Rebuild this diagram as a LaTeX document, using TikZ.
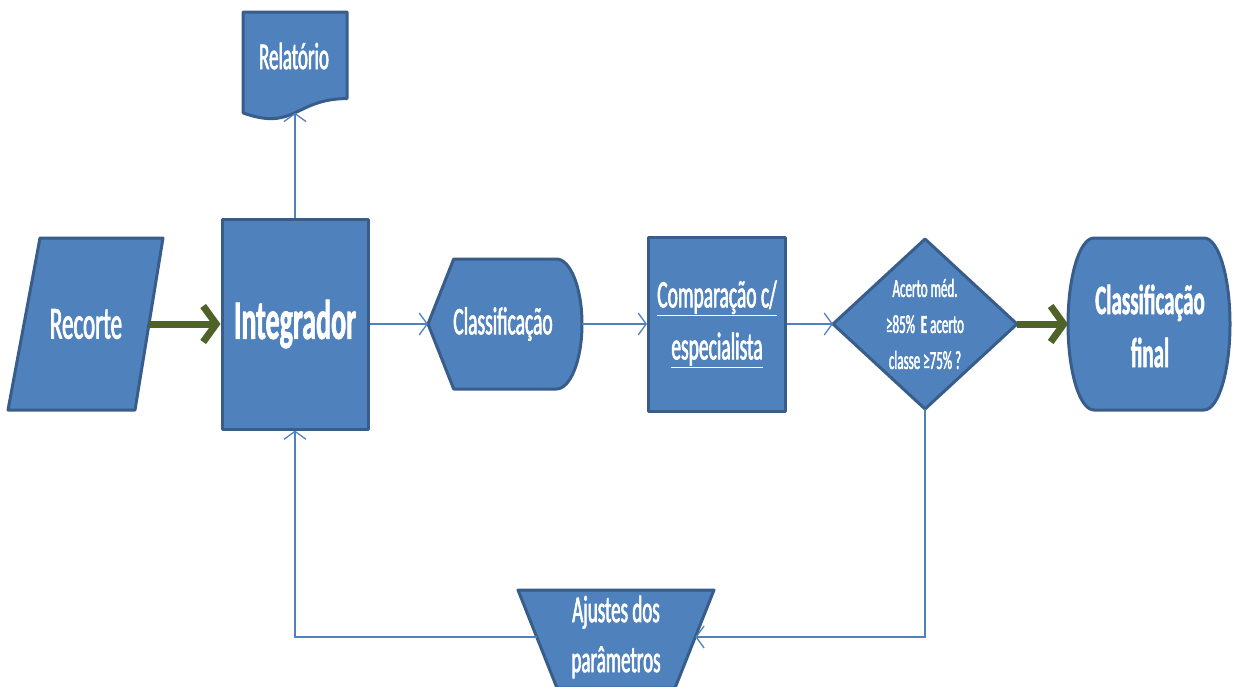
\documentclass[tikz,border=0pt]{standalone}
\usepackage{fontspec}
\setmainfont{Carlito}
\newfontfamily\narrow[FakeStretch=0.5,
  UprightFeatures={FakeBold=1.6},BoldFeatures={FakeBold=1.2}]{Carlito}
\usetikzlibrary{arrows.meta}
\definecolor{boxfill}{HTML}{4F81BD}
\definecolor{boxline}{HTML}{385D8A}
\definecolor{flowline}{HTML}{4F81BD}
\definecolor{okgreen}{HTML}{4F6228}
\newcommand{\fs}[2]{\fontsize{#1}{#2}\selectfont}

\begin{document}
\begin{tikzpicture}[x=1pt,y=-1pt,
  shp/.style={fill=boxfill,draw=boxline,line width=3pt,line join=round},
  lbl/.style={text=white,font=\narrow,align=center,inner sep=0pt},
  flow/.style={draw=flowline,line width=1.5pt,-{Straight Barb[length=8pt,width=22pt,line width=1.3pt]}},
  pass/.style={draw=okgreen,line width=7pt,-{Straight Barb[length=13pt,width=36pt]}}]

\useasboundingbox (0,0) rectangle (1236,686);
\clip (0,0) rectangle (1236,686);

% Recorte: input parallelogram
\path[shp] (40,238) -- (163,238) -- (135,410) -- (8,410) -- cycle;
\coordinate (recorte-e) at (149,324);
\node[lbl,font=\narrow\fs{46}{52}] (recorte) at (86,324) {Recorte};

% Integrador
\node[shp,lbl,minimum width=146pt,minimum height=210pt,font=\narrow\bfseries\fs{56}{60}]
  (integ) at (295,324) {Integrador};

% Relatório: document with wavy bottom
\path[shp] (243,12) -- (347,12) -- (347,98.6)
  .. controls (295,98.6) and (295,131.6) .. (243,112.9) coordinate[pos=0.5] (relat-b)
  -- cycle;
\node[lbl,font=\narrow\fs{38}{44}] (relat) at (294,56) {Relatório};

% Classificação: display shape
\path[shp] (428,324) -- (453.7,259) -- (556.3,259)
  .. controls (570.5,259) and (582,288.1) .. (582,324)
  .. controls (582,359.9) and (570.5,389) .. (556.3,389)
  -- (453.7,389) -- cycle;
\coordinate (classif-w) at (428,324);
\coordinate (classif-e) at (582,324);
\node[lbl,font=\narrow\fs{39}{46}] (classif) at (503,324) {Classificação};

% Comparação com especialista
\node[shp,lbl,minimum width=137pt,minimum height=174pt,font=\narrow\fs{39}{52}]
  (compar) at (717,324) {\underline{Comparação c/}\\\underline{especialista}};

% Decision
\path[shp] (925,239) -- (1017,324) -- (925,409) -- (833,324) -- cycle;
\coordinate (dec-w) at (833,324);
\coordinate (dec-e) at (1017,324);
\coordinate (dec-s) at (925,409);
\node[lbl,font=\narrow\fs{26}{36}] (dec) at (925,324)
  {Acerto méd.\\≥85\%~~\textbf{E} acerto\\classe ≥75\% ?};

% Classificação final: terminator
\path[shp] (1094,238) -- (1204,238)
  .. controls (1218.4,238) and (1230,276.5) .. (1230,324)
  .. controls (1230,371.5) and (1218.4,410) .. (1204,410)
  -- (1094,410)
  .. controls (1079.6,410) and (1068,371.5) .. (1068,324)
  .. controls (1068,276.5) and (1079.6,238) .. (1094,238) -- cycle;
\coordinate (final-w) at (1068,324);
\node[lbl,font=\narrow\bfseries\fs{42}{53}] (final) at (1150,326) {Classificação\\final};

% Ajustes dos parâmetros: manual operation
\path[shp] (518,590) -- (714,590) -- (675,688) -- (557,688) -- cycle;
\coordinate (ajustes-e) at (695.3,637);
\coordinate (ajustes-w) at (536.7,637);
\node[lbl,font=\narrow\fs{38}{50}] (ajustes) at (616,637) {Ajustes dos\\parâmetros};

% Connectors
\draw[pass] (recorte-e) -- (integ.west);
\draw[flow] (integ.north) -- (relat-b);
\draw[flow] (integ.east) -- (classif-w);
\draw[flow] (classif-e) -- (compar.west);
\draw[flow] (compar.east) -- (dec-w);
\draw[pass] (dec-e) -- (final-w);
\draw[flow] (dec-s) |- (ajustes-e);
\draw[flow] (ajustes-w) -| (integ.south);
\end{tikzpicture}
\end{document}
